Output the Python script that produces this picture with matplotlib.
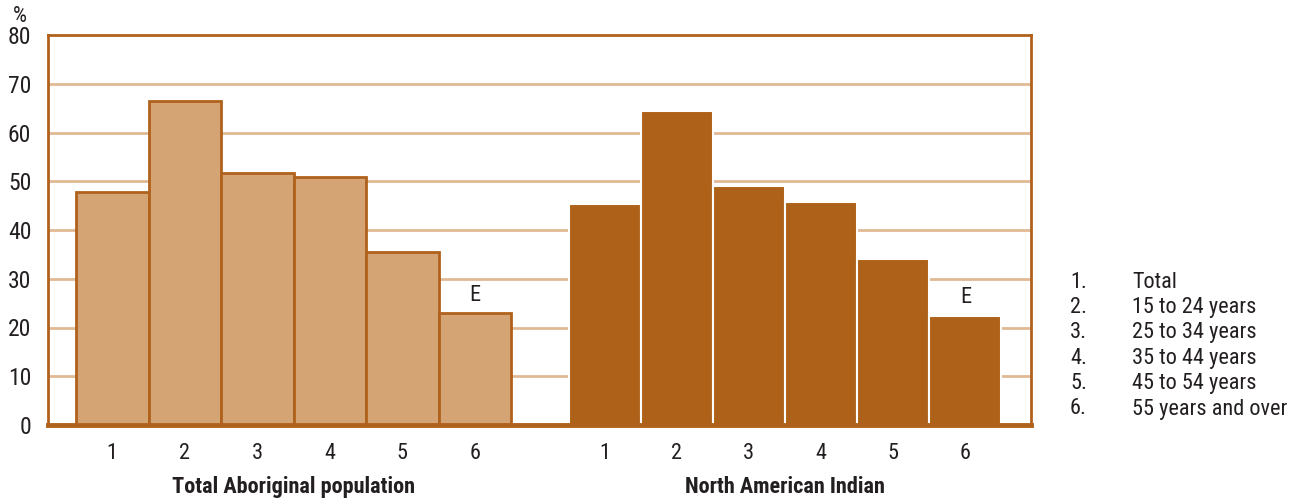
import matplotlib
matplotlib.use("Agg")
import matplotlib.pyplot as plt
from matplotlib import font_manager

categories = ["1", "2", "3", "4", "5", "6"]
groups = ["Total Aboriginal population", "North American Indian"]
total_aboriginal = [47.8, 66.5, 51.7, 50.9, 35.5, 23.0]
north_american_indian = [45.3, 64.4, 49.0, 45.7, 34.1, 22.4]
flags = ["", "", "", "", "", "E"]
legend_nums = ["1.", "2.", "3.", "4.", "5.", "6."]
legend_labels = ["Total", "15 to 24 years", "25 to 34 years", "35 to 44 years",
                 "45 to 54 years", "55 years and over"]
yticks = [0, 10, 20, 30, 40, 50, 60, 70, 80]

avail = {f.name for f in font_manager.fontManager.ttflist}
fam = [f for f in ["Liberation Sans Narrow", "Roboto Condensed", "Liberation Sans", "DejaVu Sans"] if f in avail]
plt.rcParams['font.family'] = fam

TXT = "#231f20"
BROWN = "#ad6119"
LIGHT = "#d4a475"
GRID = "#e0b995"
SPINE = "#b0621c"
FS = 16

fig = plt.figure(figsize=(12.94, 5.0), dpi=100)
ax = fig.add_axes([48/1294, 1-425/500, (1031-48)/1294, 390/500])

left_x = list(range(6))
right_x = [6.79 + 0.995 * i for i in range(6)]

ax.bar(left_x, total_aboriginal, width=1.0, color=LIGHT, edgecolor=SPINE, linewidth=2, zorder=3)
ax.bar(right_x, north_american_indian, width=0.995, color=BROWN, edgecolor="white", linewidth=1.5, zorder=3)

for x, v, f in zip(left_x, total_aboriginal, flags):
    if f:
        ax.text(x, v + 1.5, f, ha="center", va="bottom", fontsize=FS, color=TXT, zorder=4)
for x, v, f in zip(right_x, north_american_indian, flags):
    if f:
        ax.text(x, v + 1.5, f, ha="center", va="bottom", fontsize=FS, color=TXT, zorder=4)

ax.set_xlim(-0.886, 12.67)
ax.set_ylim(0, 80)
ax.set_yticks(yticks)
ax.set_yticklabels([str(t) for t in yticks], fontsize=FS + 1, color=TXT)
ax.set_xticks(left_x + right_x)
ax.set_xticklabels(categories + categories, fontsize=FS, color=TXT)
ax.tick_params(axis="x", length=0, pad=13)
ax.tick_params(axis="y", length=0, pad=12)

for t in yticks[1:-1]:
    ax.axhline(t, color=GRID, linewidth=2, zorder=1)

for s in ["left", "right", "top"]:
    ax.spines[s].set_color(SPINE)
    ax.spines[s].set_linewidth(2)
ax.spines["bottom"].set_color(SPINE)
ax.spines["bottom"].set_linewidth(3.5)
ax.spines["bottom"].set_zorder(5)

fig.text(20/1294, 1-17/500, "%", fontsize=FS, color=TXT, ha="center", va="center")

ax.text(2.5, -12.7, groups[0], ha="center", va="center", fontsize=FS, fontweight="bold", color=TXT)
ax.text(9.27, -12.7, groups[1], ha="center", va="center", fontsize=FS, fontweight="bold", color=TXT)

for i, (n, lab) in enumerate(zip(legend_nums, legend_labels)):
    y = 1 - (282 + i * 25.4) / 500
    fig.text(1070/1294, y, n, fontsize=FS, color=TXT, ha="left", va="center")
    fig.text(1132/1294, y, lab, fontsize=FS, color=TXT, ha="left", va="center")

fig.savefig("out.png", dpi=100, facecolor="white")
